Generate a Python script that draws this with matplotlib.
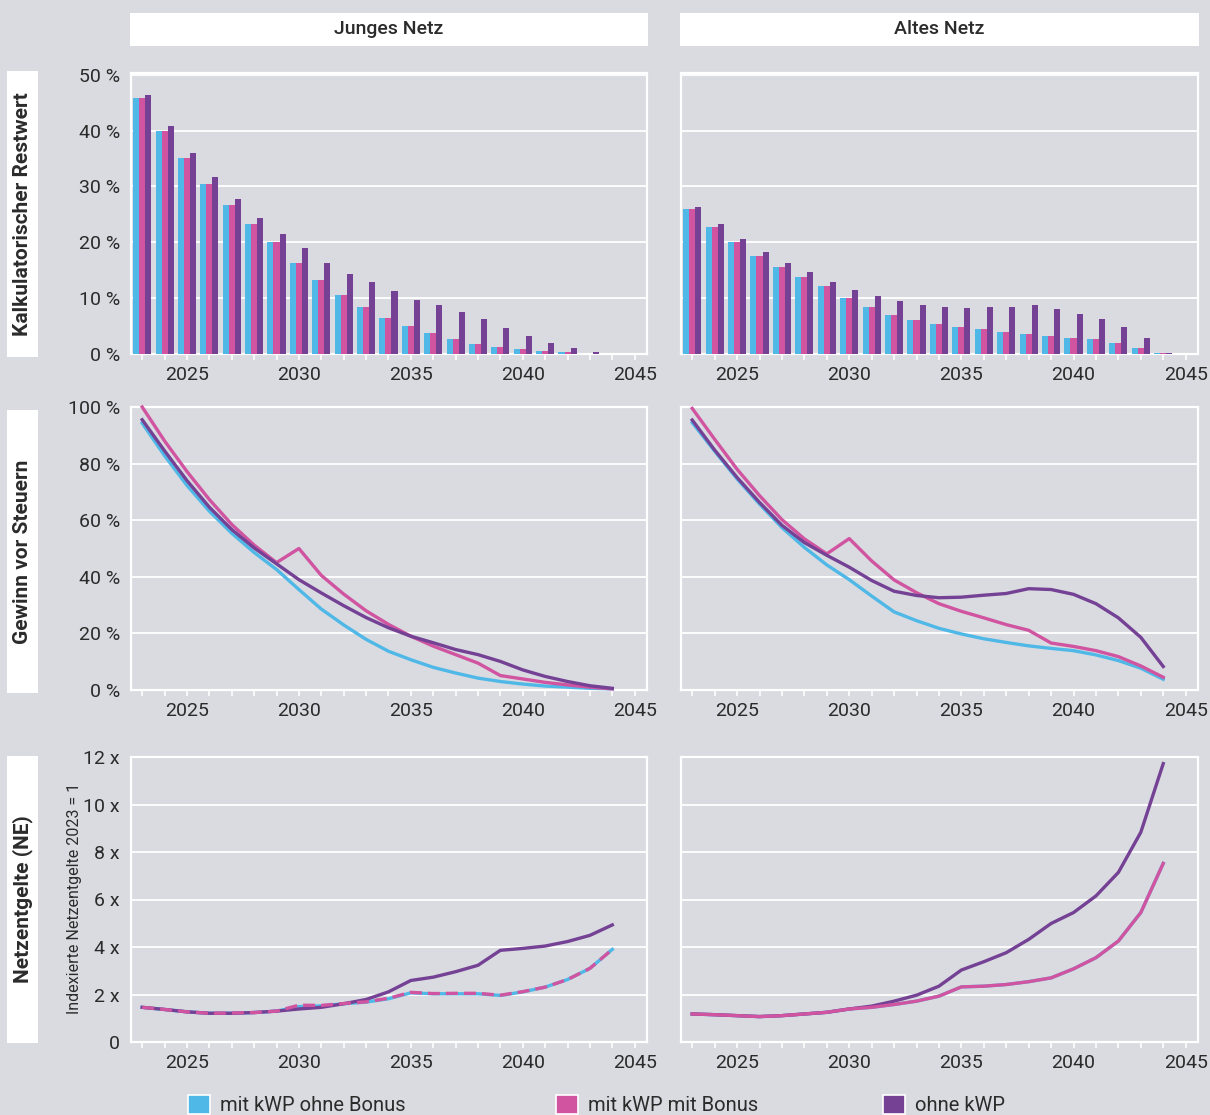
import matplotlib.pyplot as plt
from matplotlib.patches import Rectangle, Patch

W, H = 1210, 1115
BG = '#d9dbe1'
C_OHNE_BONUS = '#4fb8e7'
C_MIT_BONUS = '#d054a0'
C_OHNE_KWP = '#744194'
TXT = '#2b2b2b'

plt.rcParams['font.family'] = ['Roboto', 'DejaVu Sans']

years = list(range(2023, 2045))
series_names = ['mit kWP ohne Bonus', 'mit kWP mit Bonus', 'ohne kWP']
columns = ['Junges Netz', 'Altes Netz']
row_labels = ['Kalkulatorischer Restwert', 'Gewinn vor Steuern', 'Netzentgelte (NE)']

# Kalkulatorischer Restwert (%)
rest_jung_ohne_bonus = [45.9, 40.0, 35.0, 30.5, 26.7, 23.2, 20.1, 16.3, 13.3, 10.6, 8.5,
                        6.5, 5.1, 3.8, 2.7, 1.85, 1.3, 0.95, 0.6, 0.4, 0.06, 0.0]
rest_jung_mit_bonus = [45.9, 40.0, 35.0, 30.5, 26.7, 23.2, 20.1, 16.3, 13.3, 10.6, 8.5,
                       6.5, 5.1, 3.8, 2.7, 1.85, 1.3, 0.95, 0.6, 0.4, 0.06, 0.0]
rest_jung_ohne_kwp = [46.4, 40.9, 35.9, 31.7, 27.8, 24.4, 21.4, 18.9, 16.3, 14.4, 12.8,
                      11.2, 9.7, 8.7, 7.6, 6.3, 4.7, 3.3, 2.0, 1.1, 0.4, 0.0]
rest_alt_ohne_bonus = [26.0, 22.8, 20.1, 17.6, 15.6, 13.8, 12.2, 10.1, 8.5, 7.0, 6.1,
                       5.4, 4.9, 4.4, 4.0, 3.5, 3.3, 2.9, 2.6, 2.0, 1.1, 0.1]
rest_alt_mit_bonus = [26.0, 22.8, 20.1, 17.6, 15.6, 13.8, 12.2, 10.1, 8.5, 7.0, 6.1,
                      5.4, 4.9, 4.4, 4.0, 3.5, 3.3, 2.9, 2.6, 2.0, 1.1, 0.1]
rest_alt_ohne_kwp = [26.4, 23.3, 20.6, 18.3, 16.3, 14.6, 12.9, 11.5, 10.3, 9.4, 8.8,
                     8.5, 8.3, 8.5, 8.5, 8.7, 8.1, 7.2, 6.3, 4.9, 2.9, 0.1]

# Gewinn vor Steuern (%)
gewinn_jung_ohne_bonus = [94.3, 82.8, 72.3, 63.2, 55.4, 48.6, 42.6, 35.5, 28.6, 23.0, 17.9,
                          13.7, 10.7, 8.0, 6.0, 4.2, 3.0, 2.1, 1.4, 1.0, 0.6, 0.4]
gewinn_jung_mit_bonus = [100.0, 88.0, 77.2, 67.3, 58.5, 51.2, 45.0, 50.0, 40.5, 33.9, 28.0,
                         23.2, 19.0, 15.5, 12.5, 9.5, 5.1, 3.9, 2.7, 1.8, 1.0, 0.4]
gewinn_jung_ohne_kwp = [95.5, 84.5, 74.0, 64.6, 56.7, 50.2, 44.6, 39.0, 34.3, 29.8, 25.6,
                        22.0, 19.0, 16.7, 14.3, 12.5, 10.1, 7.1, 4.8, 3.0, 1.5, 0.6]
gewinn_alt_ohne_bonus = [94.5, 84.4, 74.6, 65.7, 57.4, 50.4, 44.2, 39.0, 33.2, 27.6, 24.5,
                         21.8, 19.8, 18.1, 16.8, 15.6, 14.7, 13.9, 12.4, 10.4, 7.7, 3.8]
gewinn_alt_mit_bonus = [99.5, 88.6, 78.0, 68.7, 60.2, 53.4, 48.1, 53.5, 45.6, 38.9, 34.4,
                        30.5, 27.8, 25.5, 23.1, 21.1, 16.6, 15.4, 13.9, 11.8, 8.5, 4.5]
gewinn_alt_ohne_kwp = [95.4, 84.8, 75.1, 66.3, 58.2, 52.1, 47.6, 43.4, 38.7, 34.9, 33.4,
                       32.6, 32.8, 33.5, 34.1, 35.8, 35.5, 33.8, 30.5, 25.5, 18.6, 8.3]

# Netzentgelte, indexiert (2023 = 1)
ne_jung_ohne_bonus = [1.46, 1.37, 1.27, 1.21, 1.21, 1.24, 1.30, 1.49, 1.52, 1.61, 1.68,
                      1.82, 2.07, 2.03, 2.03, 2.03, 1.96, 2.11, 2.31, 2.63, 3.10, 3.90]
ne_jung_mit_bonus = [1.46, 1.37, 1.27, 1.21, 1.22, 1.24, 1.30, 1.55, 1.54, 1.62, 1.69,
                     1.84, 2.09, 2.04, 2.05, 2.05, 1.97, 2.12, 2.31, 2.63, 3.10, 3.90]
ne_jung_ohne_kwp = [1.46, 1.37, 1.27, 1.21, 1.21, 1.24, 1.30, 1.39, 1.46, 1.61, 1.79,
                    2.11, 2.59, 2.73, 2.96, 3.23, 3.86, 3.94, 4.04, 4.23, 4.49, 4.93]
ne_alt_ohne_bonus = [1.18, 1.15, 1.11, 1.07, 1.11, 1.18, 1.25, 1.39, 1.46, 1.58, 1.72,
                     1.93, 2.32, 2.35, 2.42, 2.54, 2.70, 3.08, 3.55, 4.25, 5.45, 7.52]
ne_alt_mit_bonus = [1.18, 1.15, 1.11, 1.07, 1.11, 1.18, 1.25, 1.39, 1.46, 1.58, 1.72,
                    1.93, 2.32, 2.35, 2.42, 2.54, 2.70, 3.08, 3.55, 4.25, 5.45, 7.52]
ne_alt_ohne_kwp = [1.18, 1.15, 1.11, 1.07, 1.11, 1.18, 1.25, 1.39, 1.51, 1.72, 1.97,
                   2.35, 3.03, 3.38, 3.76, 4.32, 4.99, 5.45, 6.15, 7.14, 8.83, 11.72]

rest = [[rest_jung_ohne_bonus, rest_jung_mit_bonus, rest_jung_ohne_kwp],
        [rest_alt_ohne_bonus, rest_alt_mit_bonus, rest_alt_ohne_kwp]]
gewinn = [[gewinn_jung_ohne_bonus, gewinn_jung_mit_bonus, gewinn_jung_ohne_kwp],
          [gewinn_alt_ohne_bonus, gewinn_alt_mit_bonus, gewinn_alt_ohne_kwp]]
ne = [[ne_jung_ohne_bonus, ne_jung_mit_bonus, ne_jung_ohne_kwp],
      [ne_alt_ohne_bonus, ne_alt_mit_bonus, ne_alt_ohne_kwp]]

colors = [C_OHNE_BONUS, C_MIT_BONUS, C_OHNE_KWP]


def px_rect(x0, y0, x1, y1):
    return [x0 / W, 1 - y1 / H, (x1 - x0) / W, (y1 - y0) / H]


def style_axes(ax, yticks, ylabels, ymax, show_ylabels):
    ax.set_facecolor(BG)
    for s in ax.spines.values():
        s.set_color('white')
        s.set_linewidth(1.6)
    ax.set_xlim(2022.5, 2045.55)
    ax.set_ylim(0, ymax)
    ax.set_yticks(yticks)
    ax.set_yticklabels(ylabels if show_ylabels else [])
    ax.grid(axis='y', color='white', lw=1.3)
    ax.set_axisbelow(True)
    xt = list(range(2023, 2046))
    ax.set_xticks(xt)
    ax.set_xticklabels([str(y) if y % 5 == 0 else '' for y in xt])
    ax.tick_params(axis='x', colors='white', length=4.5, width=1.2, pad=4,
                   labelcolor=TXT, labelsize=14)
    ax.tick_params(axis='y', length=0, pad=8, labelcolor=TXT, labelsize=14)


fig = plt.figure(figsize=(W / 100, H / 100), dpi=100)
fig.patch.set_facecolor(BG)

col_x = [(131, 647), (681, 1198)]
row_y = [(73, 354), (407, 690), (757, 1042)]

for c in range(2):
    x0, x1 = col_x[c]
    # Restwert bars
    ax = fig.add_axes(px_rect(x0, row_y[0][0], x1, row_y[0][1]))
    bw = 0.27
    for k in range(3):
        ax.bar([y + (k - 1) * bw for y in years], rest[c][k], width=bw,
               color=colors[k], linewidth=0, zorder=3)
    style_axes(ax, [0, 10, 20, 30, 40, 50],
               ['0 %', '10 %', '20 %', '30 %', '40 %', '50 %'], 50.3, c == 0)

    # Gewinn lines
    ax = fig.add_axes(px_rect(x0, row_y[1][0], x1, row_y[1][1]))
    for k in range(3):
        ax.plot(years, gewinn[c][k], color=colors[k], lw=2.4, zorder=3 + k,
                clip_on=False)
    style_axes(ax, [0, 20, 40, 60, 80, 100],
               ['0 %', '20 %', '40 %', '60 %', '80 %', '100 %'], 100, c == 0)

    # Netzentgelte lines
    ax = fig.add_axes(px_rect(x0, row_y[2][0], x1, row_y[2][1]))
    ax.plot(years, ne[c][0], color=colors[0], lw=2.4, zorder=3)
    ax.plot(years, ne[c][2], color=colors[2], lw=2.4, zorder=4)
    if c == 0:
        ax.plot(years, ne[c][1], color=colors[1], lw=2.4, zorder=5,
                dashes=(3.6, 1.8))
    else:
        ax.plot(years, ne[c][1], color=colors[1], lw=2.4, zorder=5)
    style_axes(ax, [0, 2, 4, 6, 8, 10, 12],
               ['0', '2 x', '4 x', '6 x', '8 x', '10 x', '12 x'], 12, c == 0)

# column strips
strip_x = [(130, 648), (680, 1199)]
for (x0, x1), name in zip(strip_x, columns):
    fig.patches.append(Rectangle((x0 / W, 1 - 46 / H), (x1 - x0) / W, 33 / H,
                                 transform=fig.transFigure, facecolor='white',
                                 edgecolor='none'))
    fig.text((x0 + x1) / 2 / W, 1 - 29.5 / H, name, ha='center', va='center',
             fontsize=14, fontweight='medium', color=TXT)

# row label boxes
row_box = [(71, 357), (410, 693), (756, 1043)]
for (y0, y1), name in zip(row_box, row_labels):
    fig.patches.append(Rectangle((7 / W, 1 - y1 / H), 31 / W, (y1 - y0) / H,
                                 transform=fig.transFigure, facecolor='white',
                                 edgecolor='none'))
    fig.text(23 / W, 1 - (y0 + y1) / 2 / H, name, rotation=90, ha='center',
             va='center', fontsize=15, fontweight='semibold', color=TXT)

fig.text(75 / W, 1 - 898 / H, 'Indexierte Netzentgelte 2023 = 1', rotation=90,
         ha='center', va='center', fontsize=11.5, color=TXT)

# legend
leg_x = [188, 556, 883]
for x, name, col in zip(leg_x, series_names, colors):
    fig.legend(handles=[Patch(facecolor=col, edgecolor='white', linewidth=1.2)],
               labels=[name], loc='center left',
               bbox_to_anchor=(x / W, 1 - 1105 / H), frameon=False,
               fontsize=14.5, handlelength=1.1, handleheight=1.1,
               handletextpad=0.5, borderpad=0, borderaxespad=0,
               labelcolor=TXT)

fig.savefig('out.png', dpi=100, facecolor=BG)
